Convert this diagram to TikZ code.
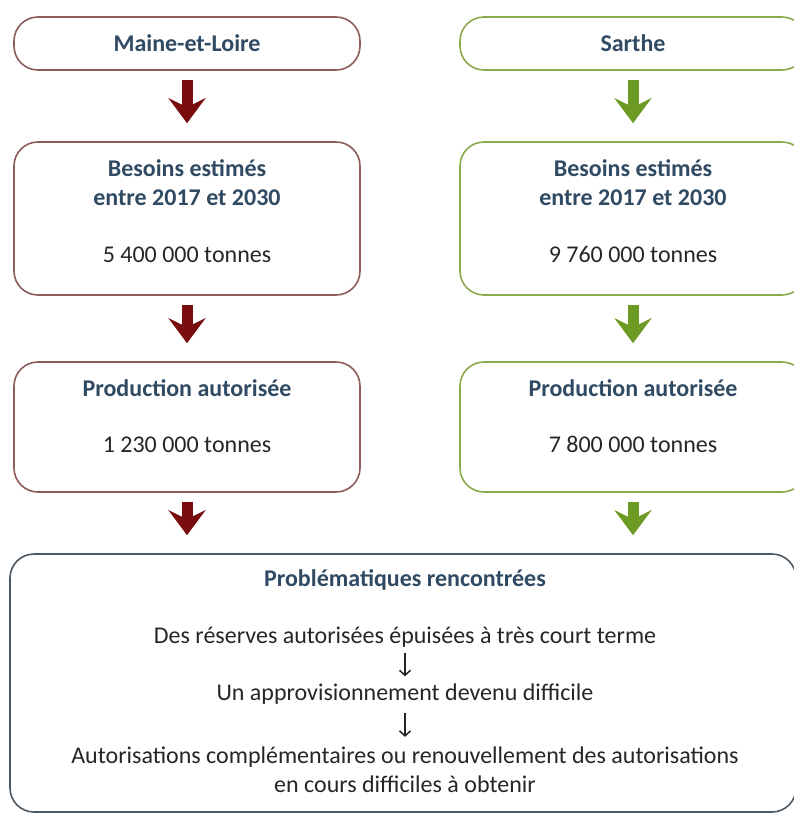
\documentclass[tikz,border=0pt]{standalone}
\usepackage{fontspec}
\setmainfont{Carlito}
\usetikzlibrary{arrows.meta}
\definecolor{titleblue}{HTML}{2F4A62}
\definecolor{bodytext}{HTML}{262626}
\definecolor{maroonline}{HTML}{8E5B5B}
\definecolor{maroonarrow}{HTML}{7A0C0E}
\definecolor{greenline}{HTML}{8BAA4E}
\definecolor{greenarrow}{HTML}{6C9A22}
\definecolor{greyline}{HTML}{4D5A63}
\tikzstyle{box} = [draw, line width=1.6pt, rounded corners=24pt, inner sep=0pt, minimum width=346pt]
\tikzstyle{title} = [font=\fontsize{24}{29}\selectfont\bfseries, text=titleblue, align=center, inner sep=0pt]
\tikzstyle{body} = [font=\fontsize{24}{29}\selectfont, text=bodytext, align=center, inner sep=0pt, text height=17pt, text depth=6pt]
\tikzstyle{bigarrow} = [line width=11pt, -{Stealth[length=25pt, width=37pt, inset=9pt]}, shorten <=9pt, shorten >=18pt]
\tikzstyle{smallarrow} = [line width=1.5pt, bodytext, -{Straight Barb[length=5pt, width=11pt]}]

\begin{document}
\begin{tikzpicture}[x=1pt, y=-1pt]
	\useasboundingbox (0,0) rectangle (794,814);
	% Maine-et-Loire
	\node[box, draw=maroonline, minimum height=53pt] (boxL1) at (187,43.5) {};
	\node[box, draw=maroonline, minimum height=153pt] (boxL2) at (187,218.5) {};
	\node[box, draw=maroonline, minimum height=130pt] (boxL3) at (187,427) {};
	\node[title] (tL1) at (187,43) {Maine-et-Loire};
	\node[title] (tL2) at (187,182.5) {Besoins estimés\\entre 2017 et 2030};
	\node[body] (nL2) at (187,257) {5 400 000 tonnes};
	\node[title] (tL3) at (187,388) {Production autorisée};
	\node[body] (nL3) at (187,447) {1 230 000 tonnes};
	% Sarthe
	\node[box, draw=greenline, minimum height=53pt] (boxR1) at (633,43.5) {};
	\node[box, draw=greenline, minimum height=153pt] (boxR2) at (633,218.5) {};
	\node[box, draw=greenline, minimum height=130pt] (boxR3) at (633,427) {};
	\node[title] (tR1) at (633,43) {Sarthe};
	\node[title] (tR2) at (633,182.5) {Besoins estimés\\entre 2017 et 2030};
	\node[body] (nR2) at (633,257) {9 760 000 tonnes};
	\node[title] (tR3) at (633,388) {Production autorisée};
	\node[body] (nR3) at (633,447) {7 800 000 tonnes};
	% problematiques
	\node[box, draw=greyline, minimum width=786pt, minimum height=258pt] (prob) at (403,683) {};
	\node[title] (tProb) at (405,580) {Problématiques rencontrées};
	\node[body] (res) at (405,638) {Des réserves autorisées épuisées à très court terme};
	\node[body] (appro) at (405,695) {Un approvisionnement devenu difficile};
	\node[body, text height=, text depth=] (autor) at (405,770) {Autorisations complémentaires ou renouvellement des autorisations\\en cours difficiles à obtenir};

	\draw[bigarrow, maroonarrow] (boxL1) -- (boxL2);
	\draw[bigarrow, maroonarrow] (boxL2) -- (boxL3);
	\draw[bigarrow, maroonarrow] (boxL3.south) -- (boxL3.south |- prob.north);
	\draw[bigarrow, greenarrow] (boxR1) -- (boxR2);
	\draw[bigarrow, greenarrow] (boxR2) -- (boxR3);
	\draw[bigarrow, greenarrow] (boxR3.south) -- (boxR3.south |- prob.north);
	\draw[smallarrow, shorten <=3pt, shorten >=7pt] (res) -- (appro);
	\draw[smallarrow, shorten <=6pt, shorten >=10pt] (appro) -- (autor);
\end{tikzpicture}
\end{document}
